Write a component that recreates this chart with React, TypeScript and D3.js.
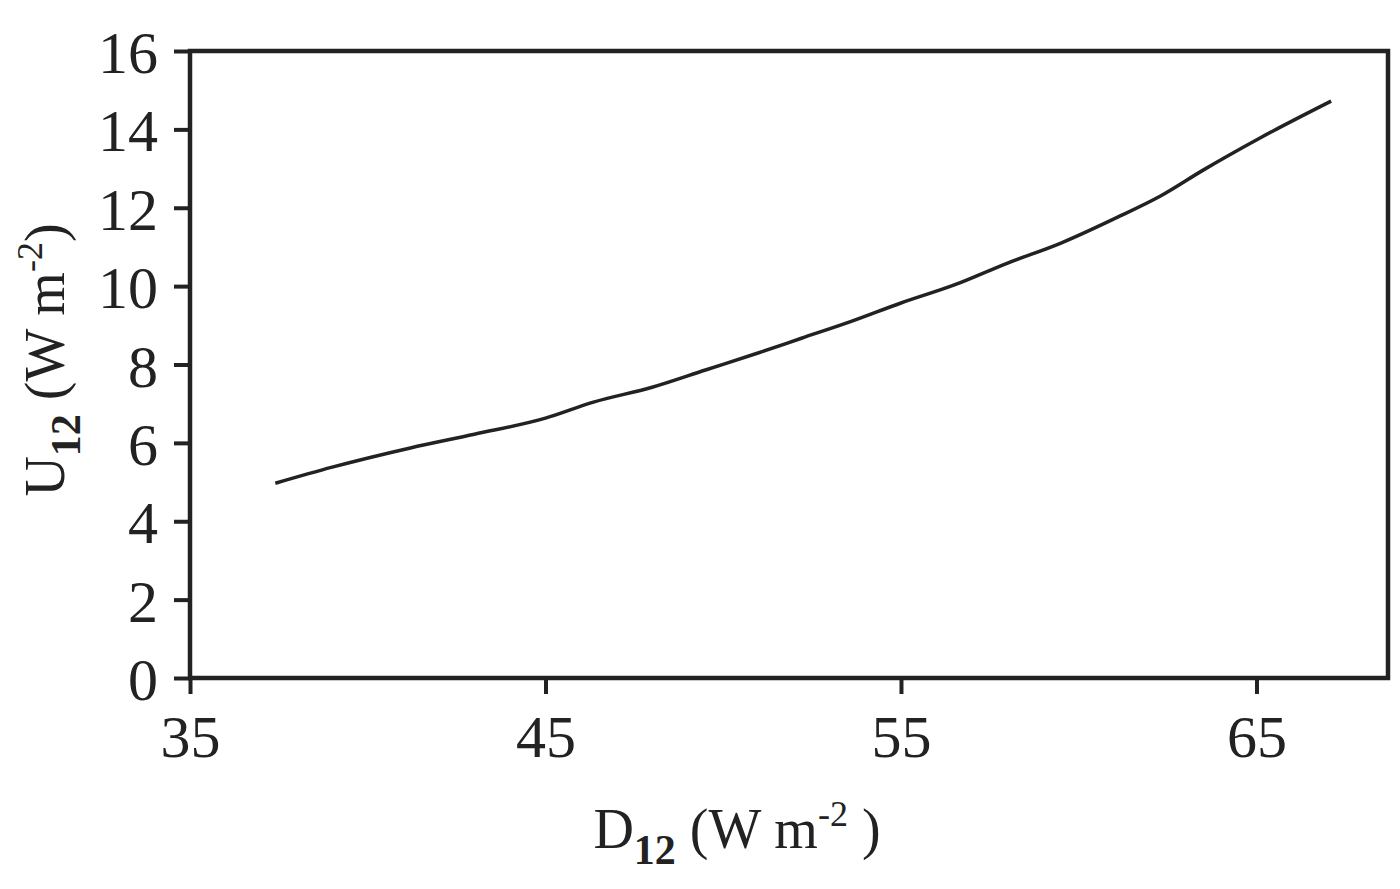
import React, { useEffect, useRef } from "react";
import * as d3 from "d3";

// curve: D12 vs U12 (W m-2)
const dValues = [37.4, 39.0, 41.2, 43.0, 45.0, 46.35, 48.0, 49.5, 51.0, 52.2, 53.6, 55.0, 56.5, 58.0, 59.5, 61.0, 62.3, 63.5, 65.1, 67.1];
const uValues = [4.97, 5.38, 5.87, 6.22, 6.63, 7.04, 7.42, 7.86, 8.3, 8.67, 9.1, 9.57, 10.03, 10.59, 11.1, 11.72, 12.3, 12.96, 13.78, 14.72];
const xTicks = [35, 45, 55, 65];
const yTicks = [0, 2, 4, 6, 8, 10, 12, 14, 16];

const W = 1400;
const H = 889;
const margin = { top: 51, right: 12, bottom: 211, left: 190 };
const font = "'Liberation Serif', 'Times New Roman', serif";

export default function App() {
  const ref = useRef<SVGSVGElement>(null);

  useEffect(() => {
    const svg = d3.select(ref.current);
    svg.selectAll("*").remove();

    const x = d3.scaleLinear().domain([35, 68.7]).range([margin.left, W - margin.right]);
    const y = d3.scaleLinear().domain([0, 16]).range([H - margin.bottom, margin.top]);

    const g = svg.append("g");

    // frame
    g.append("rect")
      .attr("x", x(35))
      .attr("y", y(16))
      .attr("width", x(68.7) - x(35))
      .attr("height", y(0) - y(16))
      .attr("fill", "none")
      .attr("stroke", "#222")
      .attr("stroke-width", 4.5);

    const xAxis = g.append("g")
      .attr("transform", `translate(0,${y(0)})`)
      .call(d3.axisBottom(x).tickValues(xTicks).tickSize(16).tickPadding(20).tickFormat(d3.format("d")));
    const yAxis = g.append("g")
      .attr("transform", `translate(${x(35)},0)`)
      .call(d3.axisLeft(y).tickValues(yTicks).tickSize(16).tickPadding(16).tickFormat(d3.format("d")));

    [xAxis, yAxis].forEach((a) => {
      a.select(".domain").remove();
      a.selectAll("line").attr("stroke", "#222").attr("stroke-width", 4);
      a.selectAll("text")
        .attr("fill", "#222")
        .style("font-family", font)
        .style("font-size", "60px");
    });
    yAxis.selectAll("text").attr("dy", "0.36em");

    const pts = dValues.map((d, i) => [d, uValues[i]] as [number, number]);
    const line = d3.line<[number, number]>()
      .x((d) => x(d[0]))
      .y((d) => y(d[1]))
      .curve(d3.curveMonotoneX);

    g.append("path")
      .attr("d", line(pts))
      .attr("fill", "none")
      .attr("stroke", "#222")
      .attr("stroke-width", 3.5);

    // x axis label
    const xl = g.append("text")
      .attr("x", 737)
      .attr("y", 848)
      .attr("text-anchor", "middle")
      .attr("fill", "#222")
      .style("font-family", font)
      .style("font-size", "56px");
    xl.append("tspan").text("D");
    xl.append("tspan").attr("dy", 16).style("font-size", "42px").style("font-weight", "bold").text("12");
    xl.append("tspan").attr("dy", -16).text(" (W m");
    xl.append("tspan").attr("dy", -22).style("font-size", "36px").text("-2");
    xl.append("tspan").attr("dy", 22).text(" )");

    // y axis label
    const yl = g.append("text")
      .attr("transform", `translate(64,${360}) rotate(-90)`)
      .attr("text-anchor", "middle")
      .attr("fill", "#222")
      .style("font-family", font)
      .style("font-size", "56px");
    yl.append("tspan").text("U");
    yl.append("tspan").attr("dy", 16).style("font-size", "42px").style("font-weight", "bold").text("12");
    yl.append("tspan").attr("dy", -16).text(" (W m");
    yl.append("tspan").attr("dy", -22).style("font-size", "36px").text("-2");
    yl.append("tspan").attr("dy", 22).text(")");
  }, []);

  return <svg ref={ref} width={W} height={H} style={{ display: "block", position: "absolute", left: 0, top: 0, background: "#fff" }} />;
}
